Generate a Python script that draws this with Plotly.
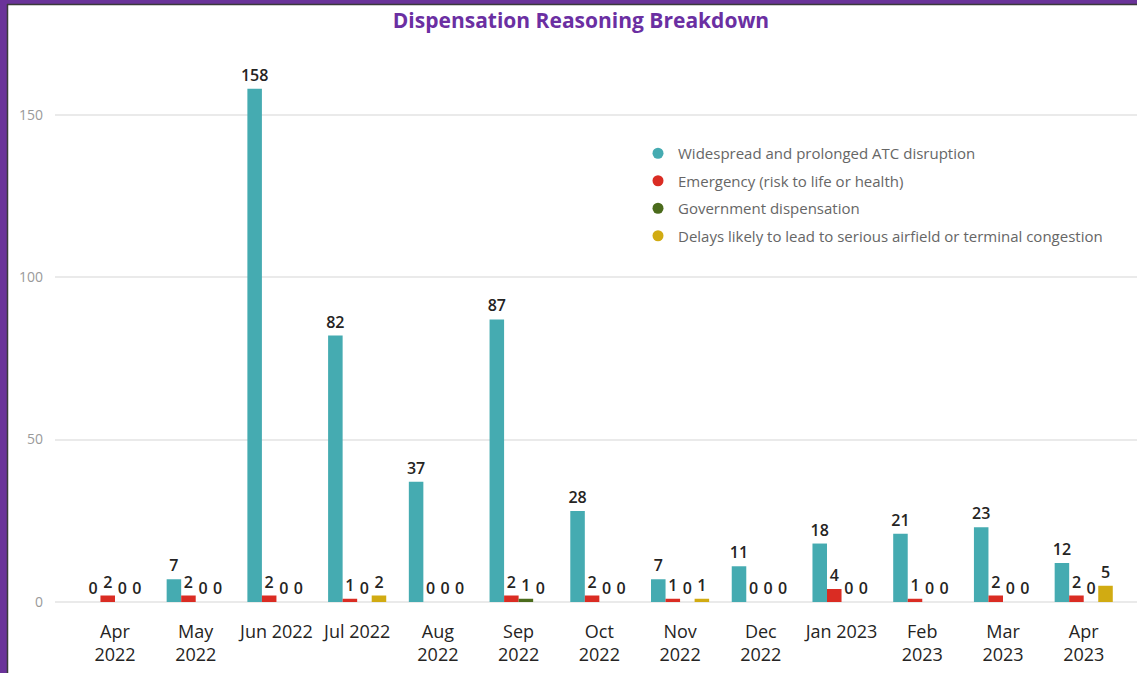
import plotly.graph_objects as go

months = ["Apr<br>2022", "May<br>2022", "Jun 2022", "Jul 2022", "Aug<br>2022", "Sep<br>2022",
          "Oct<br>2022", "Nov<br>2022", "Dec<br>2022", "Jan 2023", "Feb<br>2023", "Mar<br>2023", "Apr<br>2023"]
atc_disruption = [0, 7, 158, 82, 37, 87, 28, 7, 11, 18, 21, 23, 12]
emergency = [2, 2, 2, 1, 0, 2, 2, 1, 0, 4, 1, 2, 2]
government = [0, 0, 0, 0, 0, 1, 0, 0, 0, 0, 0, 0, 0]
delays = [0, 0, 0, 2, 0, 0, 0, 1, 0, 0, 0, 0, 5]

series_names = [
    "Widespread and prolonged ATC disruption",
    "Emergency (risk to life or health)",
    "Government dispensation",
    "Delays likely to lead to serious airfield or terminal congestion",
]
series_values = [atc_disruption, emergency, government, delays]
colors = ["#45ABB1", "#DA2C23", "#4B6B1C", "#D1AB12"]

W, H = 1137, 673
ML, MR, MT, MB = 55, 0, 40, 71
PW, PH = W - ML - MR, H - MT - MB

fig = go.Figure()
xs = list(range(len(months)))
for name, vals, col in zip(series_names, series_values, colors):
    fig.add_trace(go.Bar(
        x=xs, y=vals, name=name, marker_color=col, marker_line_width=0,
        text=[str(v) for v in vals], textposition="outside", constraintext="none",
        textfont=dict(family="Open Sans", size=16, color="#252423", weight=600),
        cliponaxis=False, showlegend=False,
    ))
for i, (name, col) in enumerate(zip(series_names, colors)):
    fig.add_trace(go.Scatter(
        x=[None], y=[None], mode="markers", name=name, legendgroup=f"g{i}",
        marker=dict(symbol="circle", size=11, color=col),
    ))

def px_x(p):
    return (p - ML) / PW

def px_y(p):
    return (H - MB - p) / PH

shapes = [
    dict(type="rect", xref="paper", yref="paper", x0=px_x(0), x1=px_x(W), y0=px_y(0), y1=px_y(4),
         fillcolor="#6A3399", line_width=0, layer="above"),
    dict(type="rect", xref="paper", yref="paper", x0=px_x(0), x1=px_x(7), y0=px_y(0), y1=px_y(H),
         fillcolor="#6A3399", line_width=0, layer="above"),
    dict(type="line", xref="paper", yref="paper", x0=px_x(7.5), x1=px_x(7.5), y0=px_y(4), y1=px_y(H),
         line=dict(color="#3a3a3a", width=1.5), layer="above"),
    dict(type="line", xref="paper", yref="paper", x0=px_x(7), x1=px_x(W), y0=px_y(4.5), y1=px_y(4.5),
         line=dict(color="#3a3a3a", width=1.5), layer="above"),
]

fig.update_layout(
    width=W, height=H,
    margin=dict(l=ML, r=MR, t=MT, b=MB),
    paper_bgcolor="white", plot_bgcolor="white",
    barmode="group", bargap=0.28, bargroupgap=0,
    font=dict(family="Open Sans", color="#252423"),
    title=dict(text="<b>Dispensation Reasoning Breakdown</b>", x=581 / W, xanchor="center",
               y=1 - 21 / H, yanchor="middle", xref="container", yref="container",
               font=dict(family="Open Sans", size=21, color="#6B2FA2")),
    xaxis=dict(tickmode="array", tickvals=xs, ticktext=months, range=[-0.743, 12.66],
               showgrid=False, zeroline=False, showline=False, ticks="",
               tickfont=dict(size=18, color="#252423"), ticklabelstandoff=17),
    yaxis=dict(range=[0, 173], tickvals=[0, 50, 100, 150], showgrid=True, gridcolor="#EAEAEA",
               gridwidth=1.5, zeroline=True, zerolinecolor="#EAEAEA", zerolinewidth=1.5,
               tickfont=dict(size=14, color="#9A9A9A"), ticklabelstandoff=11, showline=False),
    legend=dict(x=px_x(638), y=px_y(137), xanchor="left", yanchor="top",
                font=dict(size=15, color="#666666"), tracegroupgap=5,
                bgcolor="rgba(0,0,0,0)", itemwidth=30),
    shapes=shapes,
)

fig.write_html("out.html", config={"displayModeBar": False},
               post_script="document.body.style.margin='0';document.body.style.overflow='hidden';")
